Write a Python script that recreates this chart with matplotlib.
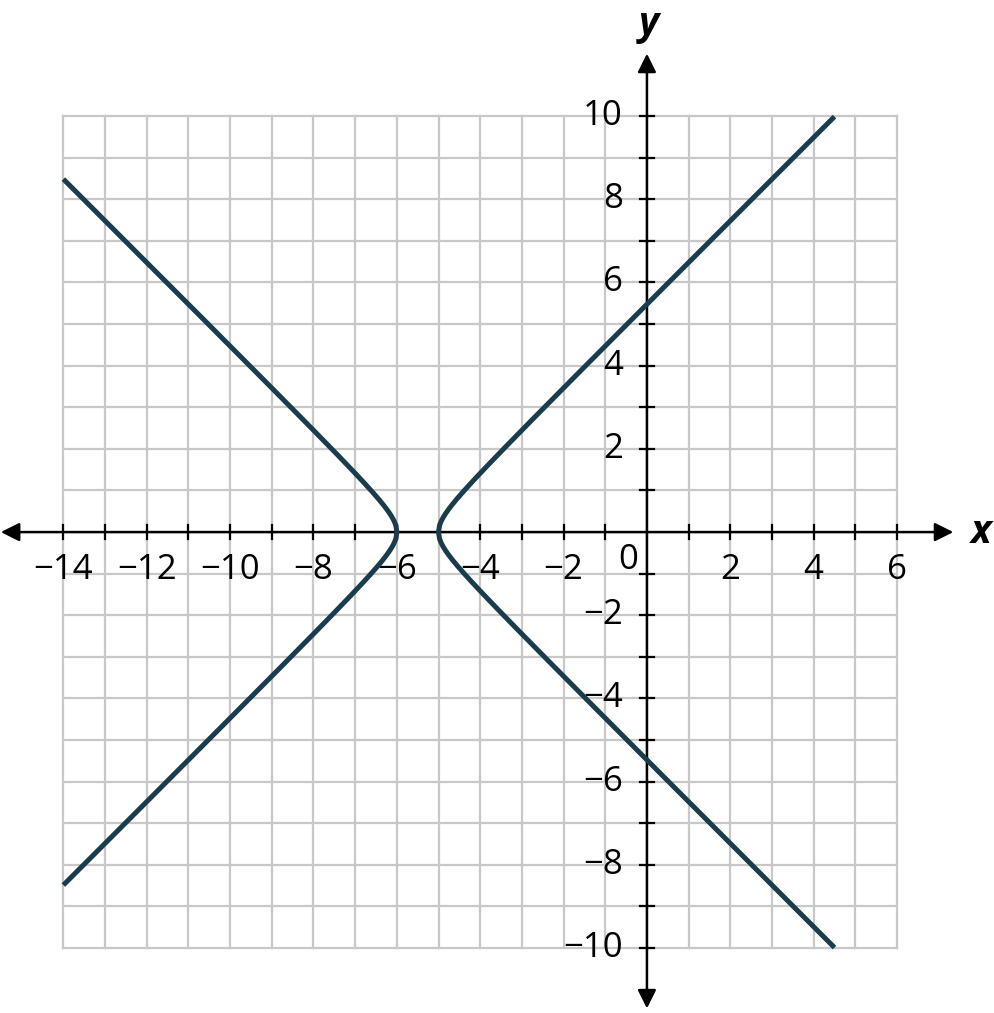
import numpy as np
import matplotlib.pyplot as plt

# hyperbola (x - h)^2 / a^2 - y^2 / b^2 = 1
h, k = -5.5, 0.0
a, b = 0.5, 0.5
x_left_end, x_right_end = -14.0, 4.5

grid_x = list(range(-14, 7))
grid_y = list(range(-10, 11))
x_labels = [-14, -12, -10, -8, -6, -4, -2, 2, 4, 6]
y_labels = [-10, -8, -6, -4, -2, 2, 4, 6, 8, 10]

plt.rcParams['font.family'] = ['Open Sans', 'DejaVu Sans']

fig = plt.figure(figsize=(9.95, 10.13), dpi=100)
ax = fig.add_axes([0, 0, 1, 1])
ax.set_xlim(-15.52, 8.35)
ax.set_ylim(-11.56, 12.79)
ax.axis('off')

# grid
for gx in grid_x:
    ax.plot([gx, gx], [-10, 10], color='#c8c8c8', lw=1.6, zorder=1)
for gy in grid_y:
    ax.plot([-14, 6], [gy, gy], color='#c8c8c8', lw=1.6, zorder=1)

# axes with arrows
ax.annotate('', xy=(7.35, 0), xytext=(-15.5, 0),
            arrowprops=dict(arrowstyle='<|-|>', color='black', lw=1.8,
                            mutation_scale=28, shrinkA=0, shrinkB=0), zorder=3)
ax.annotate('', xy=(0, 11.5), xytext=(0, -11.45),
            arrowprops=dict(arrowstyle='<|-|>', color='black', lw=1.8,
                            mutation_scale=28, shrinkA=0, shrinkB=0), zorder=3)

# tick marks
t = 0.16
for gx in grid_x:
    if gx != 0:
        ax.plot([gx, gx], [-t, t], color='black', lw=1.6, zorder=3)
for gy in grid_y:
    if gy != 0:
        ax.plot([-t, t], [gy, gy], color='black', lw=1.6, zorder=3)

# tick labels
for v in x_labels:
    ax.text(v, -0.92, str(v).replace('-', '\u2212'), ha='center', va='center',
            fontsize=25, zorder=4)
for v in y_labels:
    ax.text(-0.58, v, str(v).replace('-', '\u2212'), ha='right', va='center',
            fontsize=25, zorder=4)
ax.text(-0.45, -0.68, '0', ha='center', va='center', fontsize=25, zorder=4)

ax.text(8.03, 0, 'x', ha='center', va='center', fontsize=28,
        fontweight='bold', fontstyle='italic')
ax.text(0.05, 12.2, 'y', ha='center', va='center', fontsize=28,
        fontweight='bold', fontstyle='italic')

# hyperbola branches
color = '#1b3c4d'
xl = np.linspace(x_left_end, h - a, 400)
xr = np.linspace(h + a, x_right_end, 400)
for xs in (xl, xr):
    ys = b * np.sqrt(np.clip((xs - h) ** 2 / a ** 2 - 1, 0, None))
    if xs[0] < h:
        px = np.concatenate([xs, xs[::-1]])
        py = np.concatenate([k + ys, k - ys[::-1]])
    else:
        px = np.concatenate([xs[::-1], xs])
        py = np.concatenate([k + ys[::-1], k - ys])
    ax.plot(px, py, color=color, lw=3.6, solid_capstyle='butt', zorder=5)

fig.savefig('out.png', dpi=100)
